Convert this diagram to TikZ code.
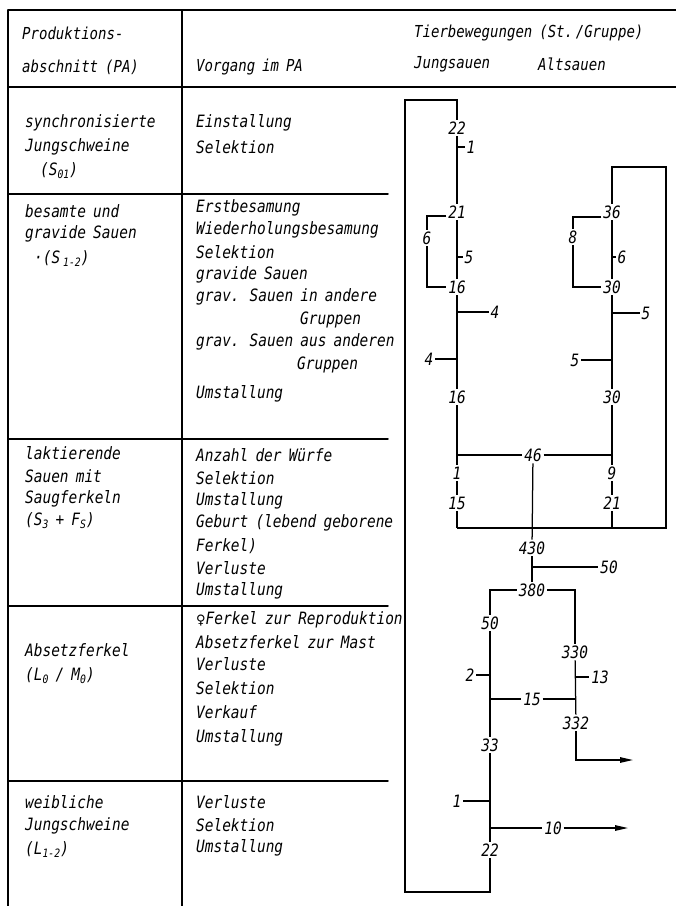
\documentclass[tikz,border=0pt]{standalone}
\usepackage{fontspec}
\setmainfont{DejaVu Sans}
\newfontfamily\hw{DejaVu Sans Mono}[FakeStretch=0.85]
\newfontfamily\symf{DejaVu Sans}
\usetikzlibrary{arrows.meta}
\newcommand\sbx[1]{\raisebox{-3pt}{\fontsize{11.5}{12}\selectfont #1}}
\newcommand\bodyfont{\hw\itshape\fontsize{17}{19}\selectfont\fontdimen2\font=0.42em\relax}
\newcommand\headfont{\hw\itshape\fontsize{16.5}{18}\selectfont\fontdimen2\font=0.42em\relax}
\begin{document}
\begin{tikzpicture}[x=1pt,y=-1pt,
  txt/.style={anchor=west,inner sep=0pt,font=\bodyfont},
  hdr/.style={anchor=west,inner sep=0pt,font=\headfont},
  num/.style={inner sep=1.8pt,font=\bodyfont},
  grid/.style={line width=1.5pt,line cap=round},
  flow/.style={line width=1.25pt},
  arr/.style={flow,-{Triangle[length=13pt,width=5.5pt]}}]
\fill[white] (0,0) rectangle (676,906);
\useasboundingbox (0,0) rectangle (676,906);
% table frame
\draw[grid] (8,10) -- (676,10);
\draw[grid] (8,10) -- (8,906);
\draw[grid] (182,10) -- (182,906);
\draw[grid] (8,87) -- (676,87);
\foreach \yy in {194,439,606,781} \draw[grid] (8,\yy) -- (388,\yy);
% header
\node[hdr] (h1) at (22,33) {Produktions-};
\node[hdr] (h2) at (22,67) {abschnitt (PA)};
\node[hdr] (h3) at (196,67) {Vorgang im PA};
\node[hdr] (h4) at (414,33) {Tierbewegungen (St.\,/Gruppe)};
\node[hdr] (h5) at (414,64) {Jungsauen};
\node[hdr] (h6) at (538,64) {Altsauen};
% column 1
\node[txt] (a1) at (25,123) {synchronisierte};
\node[txt] (a2) at (25,147) {Jungschweine};
\node[txt] (a3) at (40,171) {(S\sbx{01})};
\node[txt] (a4) at (25,211) {besamte und};
\node[txt] (a5) at (25,234) {gravide Sauen};
\node[txt] (a6) at (34,259) {·(S\,\sbx{1-2})};
\node[txt] (a7) at (25,453) {laktierende};
\node[txt] (a8) at (25,476) {Sauen mit};
\node[txt] (a9) at (25,499) {Saugferkeln};
\node[txt] (a10) at (25,521) {(S\sbx{3} + F\sbx{S})};
\node[txt] (a11) at (25,650) {Absetzferkel};
\node[txt] (a12) at (25,676) {(L\sbx{0} / M\sbx{0})};
\node[txt] (a13) at (25,802) {weibliche};
\node[txt] (a14) at (25,826) {Jungschweine};
\node[txt] (a15) at (25,850) {(L\sbx{1-2})};
% column 2
\node[txt] (b1) at (196,123) {Einstallung};
\node[txt] (b2) at (196,147) {Selektion};
\node[txt] (b3) at (196,208) {Erstbesamung};
\node[txt] (b4) at (196,230) {Wiederholungsbesamung};
\node[txt] (b5) at (196,252) {Selektion};
\node[txt] (b6) at (196,275) {gravide Sauen};
\node[txt] (b7) at (196,297) {grav. Sauen in andere};
\node[txt] (b8) at (300,320) {Gruppen};
\node[txt] (b9) at (196,342) {grav. Sauen aus anderen};
\node[txt] (b10) at (297,365) {Gruppen};
\node[txt] (b11) at (196,394) {Umstallung};
\node[txt] (b12) at (196,455) {Anzahl der Würfe};
\node[txt] (b13) at (196,478) {Selektion};
\node[txt] (b14) at (196,501) {Umstallung};
\node[txt] (b15) at (196,523) {Geburt (lebend geborene};
\node[txt] (b16) at (196,546) {Ferkel)};
\node[txt] (b17) at (196,568) {Verluste};
\node[txt] (b18) at (196,591) {Umstallung};
\node[txt] (b19) at (196,620) {{\symf\itshape\fontsize{13}{14}\selectfont ♀}Ferkel zur Reproduktion};
\node[txt] (b20) at (196,642) {Absetzferkel zur Mast};
\node[txt] (b21) at (196,664) {Verluste};
\node[txt] (b22) at (196,688) {Selektion};
\node[txt] (b23) at (196,712) {Verkauf};
\node[txt] (b24) at (196,738) {Umstallung};
\node[txt] (b25) at (196,802) {Verluste};
\node[txt] (b26) at (196,825) {Selektion};
\node[txt] (b27) at (196,848) {Umstallung};
% flow nodes - Jungsauen
\node[num] (n22a) at (457,128) {22};
\node[num] (l1a) at (471,147) {1};
\node[num] (n21) at (457,212) {21};
\node[num] (n6) at (427,238) {6};
\node[num] (l5a) at (469,257) {5};
\node[num] (n16a) at (457,287) {16};
\node[num] (l4a) at (495,312) {4};
\node[num] (l4b) at (429,359) {4};
\node[num] (n16b) at (457,397) {16};
\node[num] (n1) at (457,473) {1};
\node[num] (n15) at (457,503) {15};
% Altsauen
\node[num] (n36) at (612,212) {36};
\node[num] (n8) at (573,237) {8};
\node[num] (l6) at (622,257) {6};
\node[num] (n30a) at (612,287) {30};
\node[num] (l5b) at (646,313) {5};
\node[num] (l5c) at (575,360) {5};
\node[num] (n30b) at (612,397) {30};
\node[num] (n9) at (612,473) {9};
\node[num] (n21r) at (612,503) {21};
\node[num] (n46) at (533,455) {46};
% lower part
\node[num] (n430) at (532,548) {430};
\node[num] (l50) at (609,567) {50};
\node[num] (n380) at (532,590) {380};
\node[num] (n50) at (490,623) {50};
\node[num] (n330) at (575,652) {330};
\node[num] (l2) at (470,675) {2};
\node[num] (l13) at (600,677) {13};
\node[num] (n15m) at (532,699) {15};
\node[num] (n332) at (576,723) {332};
\node[num] (n33) at (490,745) {33};
\node[num] (l1b) at (457,801) {1};
\node[num] (n10) at (553,828) {10};
\node[num] (n22b) at (490,850) {22};
% coordinates
\coordinate (lt) at (405,100);
\coordinate (lt2) at (457,100);
\coordinate (lb) at (405,892);
\coordinate (lb2) at (490,892);
\coordinate (c1a) at (457,147);
\coordinate (c5a) at (457,257);
\coordinate (c4a) at (457,312);
\coordinate (c4b) at (457,359);
\coordinate (b21a) at ([yshift=-4pt]n21.west);
\coordinate (b36a) at ([yshift=-5pt]n36.west);
\coordinate (c6) at (612,257);
\coordinate (c5b) at (612,313);
\coordinate (c5c) at (612,360);
\coordinate (tr) at (666,167);
\coordinate (br) at (666,528);
\coordinate (bl) at (457,528);
\coordinate (bm) at (612,528);
\coordinate (c46l) at (457,455);
\coordinate (c46r) at (612,455);
\coordinate (c50) at (532,567);
\coordinate (c2) at (490,675);
\coordinate (c13) at (575,677);
\coordinate (c15l) at (490,699);
\coordinate (c15r) at (575,699);
\coordinate (e332) at (633,760);
\coordinate (c1b) at (490,801);
\coordinate (c10) at (490,828);
\coordinate (e10) at (628,828);
% big loop
\draw[flow] (n22b) -- (lb2) -- (lb) -- (lt) -- (lt2) -- (n22a);
% Jungsauen trunk
\draw[flow] (n22a) -- (n21);
\draw[flow] (c1a) -- (l1a);
\draw[flow] (n21) -- (n16a);
\draw[flow] (c5a) -- (l5a);
\draw[flow] (b21a) -| (n6);
\draw[flow] (n6) |- (n16a);
\draw[flow] (n16a) -- (n16b);
\draw[flow] (c4a) -- (l4a);
\draw[flow] (c4b) -- (l4b);
\draw[flow] (n16b) -- (n1);
\draw[flow] (n1) -- (n15);
\draw[flow] (n15) -- (bl);
% Altsauen
\draw[flow] (n36) |- (tr) -- (br) -- (bl);
\draw[flow] (n36) -- (n30a);
\draw[flow] (c6) -- (l6);
\draw[flow] (b36a) -| (n8);
\draw[flow] (n8) |- (n30a);
\draw[flow] (n30a) -- (n30b);
\draw[flow] (c5b) -- (l5b);
\draw[flow] (c5c) -- (l5c);
\draw[flow] (n30b) -- (n9);
\draw[flow] (n9) -- (n21r);
\draw[flow] (n21r) -- (bm);
% 46
\draw[flow] (c46l) -- (n46) -- (c46r);
\draw[flow] (n46) -- (n430);
% lower
\draw[flow] (n430) -- (n380);
\draw[flow] (c50) -- (l50);
\draw[flow] (n380) -| (n50);
\draw[flow] (n380) -| (n330);
\draw[flow] (n50) -- (n33);
\draw[flow] (c2) -- (l2);
\draw[flow] (c15l) -- (n15m) -- (c15r);
\draw[flow] (n330) -- (n332);
\draw[flow] (c13) -- (l13);
\draw[arr] (n332) |- (e332);
\draw[flow] (n33) -- (n22b);
\draw[flow] (c1b) -- (l1b);
\draw[flow] (c10) -- (n10);
\draw[arr] (n10) -- (e10);
\end{tikzpicture}
\end{document}
